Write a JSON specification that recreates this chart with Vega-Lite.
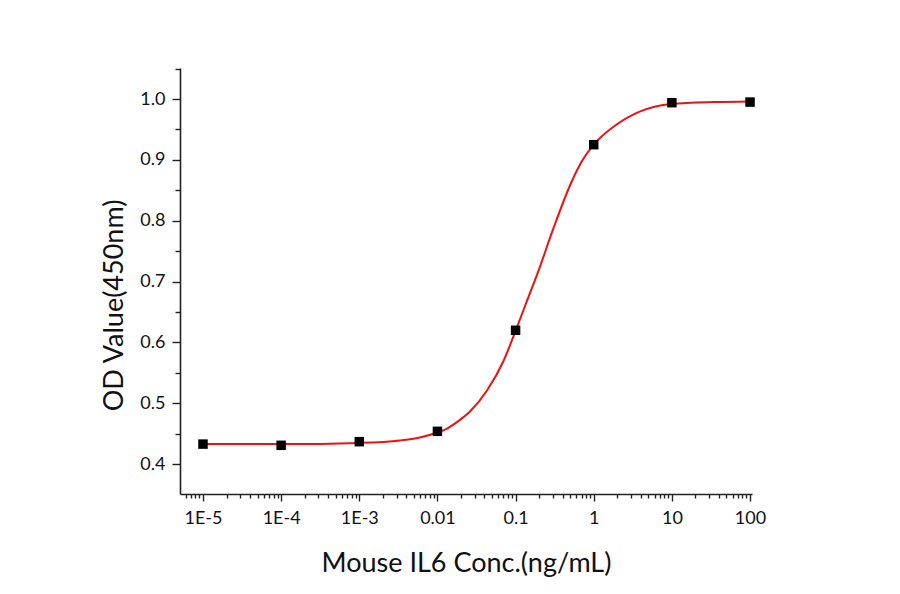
{
  "$schema": "https://vega.github.io/schema/vega-lite/v6.json",
  "width": 572,
  "height": 426,
  "autosize": "none",
  "padding": {"left": 180, "top": 68, "right": 148, "bottom": 100},
  "background": "white",
  "datasets": {
    "points": [
      {"conc": 0.00001, "od": 0.433},
      {"conc": 0.0001, "od": 0.431},
      {"conc": 0.001, "od": 0.437},
      {"conc": 0.01, "od": 0.454},
      {"conc": 0.1, "od": 0.620},
      {"conc": 1, "od": 0.925},
      {"conc": 10, "od": 0.994},
      {"conc": 100, "od": 0.995}
    ],
    "fit": [
      {"conc": 0.00001, "od": 0.433},
      {"conc": 0.0001, "od": 0.433},
      {"conc": 0.001, "od": 0.435},
      {"conc": 0.00331, "od": 0.439},
      {"conc": 0.00597, "od": 0.444},
      {"conc": 0.01, "od": 0.452},
      {"conc": 0.0135, "od": 0.459},
      {"conc": 0.016, "od": 0.465},
      {"conc": 0.02, "od": 0.474},
      {"conc": 0.0263, "od": 0.487},
      {"conc": 0.0431, "od": 0.521},
      {"conc": 0.0703, "od": 0.570},
      {"conc": 0.1, "od": 0.619},
      {"conc": 0.1406, "od": 0.669},
      {"conc": 0.198, "od": 0.719},
      {"conc": 0.308, "od": 0.789},
      {"conc": 0.505, "od": 0.860},
      {"conc": 0.679, "od": 0.894},
      {"conc": 1, "od": 0.925},
      {"conc": 1.816, "od": 0.955},
      {"conc": 3.8, "od": 0.979},
      {"conc": 10, "od": 0.992},
      {"conc": 34.9, "od": 0.995},
      {"conc": 100, "od": 0.996}
    ]
  },
  "encoding": {
    "x": {
      "field": "conc",
      "type": "quantitative",
      "scale": {"type": "log", "domain": [0.00000508, 106], "nice": false},
      "axis": {
        "title": "Mouse IL6 Conc.(ng/mL)",
        "values": [
          0.000006, 0.000007, 0.000008, 0.000009,
          0.00001, 0.00002, 0.00003, 0.00004, 0.00005, 0.00006, 0.00007, 0.00008, 0.00009,
          0.0001, 0.0002, 0.0003, 0.0004, 0.0005, 0.0006, 0.0007, 0.0008, 0.0009,
          0.001, 0.002, 0.003, 0.004, 0.005, 0.006, 0.007, 0.008, 0.009,
          0.01, 0.02, 0.03, 0.04, 0.05, 0.06, 0.07, 0.08, 0.09,
          0.1, 0.2, 0.3, 0.4, 0.5, 0.6, 0.7, 0.8, 0.9,
          1, 2, 3, 4, 5, 6, 7, 8, 9,
          10, 20, 30, 40, 50, 60, 70, 80, 90, 100
        ],
        "labelExpr": "indexof(['1E-5','1E-4','1E-3','0.01','0.1','1','10','100'], datum.value == 0.00001 ? '1E-5' : datum.value == 0.0001 ? '1E-4' : datum.value == 0.001 ? '1E-3' : format(datum.value, '~g')) >= 0 ? (datum.value == 0.00001 ? '1E-5' : datum.value == 0.0001 ? '1E-4' : datum.value == 0.001 ? '1E-3' : format(datum.value, '~g')) : ''",
        "tickSize": {
          "condition": {"test": "abs(log(datum.value) / log(10) - round(log(datum.value) / log(10))) < 0.001", "value": 7},
          "value": 4
        },
        "labelOverlap": false,
        "labelFlush": false,
        "labelPadding": 8
      }
    },
    "y": {
      "field": "od",
      "type": "quantitative",
      "scale": {"domain": [0.351, 1.051], "nice": false, "zero": false},
      "axis": {
        "title": "OD Value(450nm)",
        "titleY": 237,
        "values": [0.35, 0.4, 0.45, 0.5, 0.55, 0.6, 0.65, 0.7, 0.75, 0.8, 0.85, 0.9, 0.95, 1.0, 1.05],
        "labelExpr": "abs(datum.value * 10 - round(datum.value * 10)) < 0.001 ? format(datum.value, '.1f') : ''",
        "tickSize": {
          "condition": {"test": "abs(datum.value * 10 - round(datum.value * 10)) < 0.001", "value": 8},
          "value": 5
        },
        "labelOverlap": false,
        "labelFlush": false,
        "labelPadding": 7
      }
    }
  },
  "layer": [
    {
      "data": {"name": "fit"},
      "mark": {"type": "line", "color": "#f01010", "strokeWidth": 2, "interpolate": "monotone"}
    },
    {
      "data": {"name": "points"},
      "mark": {"type": "square", "color": "black", "size": 90, "opacity": 1}
    }
  ],
  "config": {
    "view": {"stroke": null},
    "font": "Lato",
    "axis": {
      "grid": false,
      "domainColor": "#222222",
      "domainWidth": 1.6,
      "tickColor": "#222222",
      "tickWidth": 1.4,
      "labelFont": "Lato",
      "labelFontSize": 18,
      "labelColor": "#111111",
      "titleFont": "Lato",
      "titleFontSize": 27,
      "titleFontWeight": "normal",
      "titleColor": "#111111"
    },
    "axisX": {"titlePadding": 23},
    "axisY": {"titlePadding": 11}
  }
}
